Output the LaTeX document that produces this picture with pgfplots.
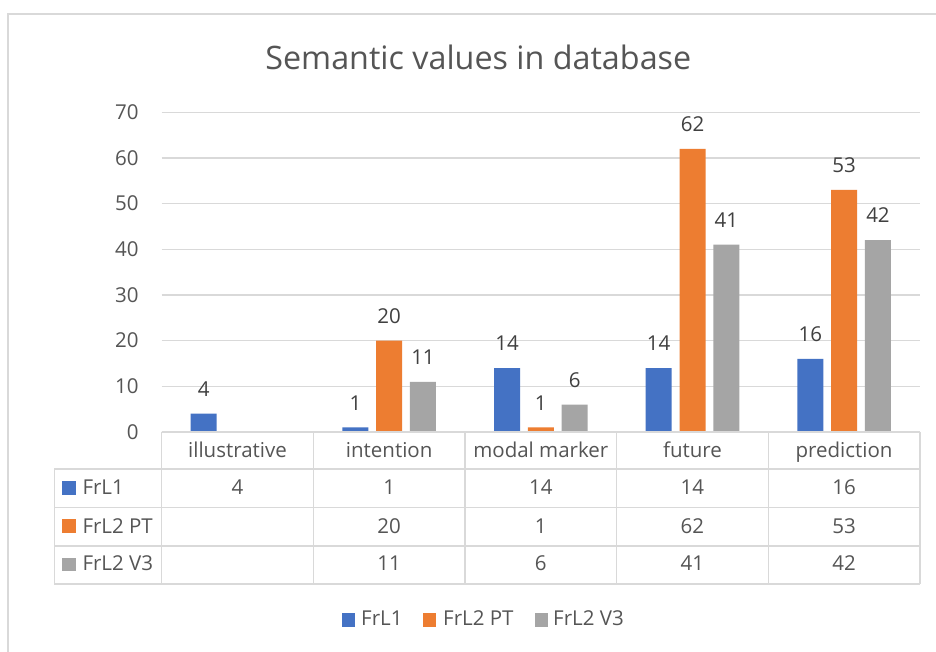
\documentclass[border=0pt]{standalone}
\usepackage{pgfplots}
\pgfplotsset{compat=1.18}
\usepackage{fontspec}
\setmainfont{Open Sans}
\definecolor{cblue}{HTML}{4472C4}
\definecolor{corange}{HTML}{ED7D31}
\definecolor{cgray}{HTML}{A5A5A5}
\definecolor{gridc}{HTML}{D9D9D9}
\definecolor{txt}{HTML}{555555}
\definecolor{lbl}{HTML}{404040}
\newcommand\lab{\fontsize{20.5}{24}\selectfont}
\begin{document}
\begin{tikzpicture}[x=1pt,y=1pt]
\useasboundingbox (0,0) rectangle (936,652);
\fill[white] (0,0) rectangle (936,652);
\draw[gridc, line width=1.5pt] (8,0) -- (8,638) -- (936,638);
\node[anchor=base, font=\fontsize{32.3}{38}\selectfont, text=txt, inner sep=0pt] at (478.3,582.7) {Semantic values in database};
\begin{axis}[
  at={(161.7pt,220pt)}, anchor=south west,
  scale only axis, width=758.3pt, height=319.7pt,
  xmin=-0.5, xmax=4.5, ymin=0, ymax=70,
  ytick={0,10,...,70}, xtick=\empty,
  axis line style={draw=none}, major tick length=0pt,
  ymajorgrids, grid style={gridc, line width=1.2pt},
  /pgf/number format/assume math mode=true,
  yticklabel style={font=\lab, text=txt, inner sep=0pt, xshift=-23pt},
  ybar=7.8pt, bar width=26pt,
  nodes near coords,
  every node near coord/.append style={font=\lab, text=lbl, inner sep=0pt, yshift=17pt},
  clip=false,
]
\addplot[fill=cblue, draw=none] coordinates {(0,4) (1,1) (2,14) (3,14) (4,16)};
\addplot[fill=corange, draw=none] coordinates {(1,20) (2,1) (3,62) (4,53)};
\addplot[fill=cgray, draw=none] coordinates {(1,11) (2,6) (3,41) (4,42)};
\end{axis}
% data table
\begin{scope}[gridc, line width=1.5pt]
\draw (161.7,220) -- (920,220);
\foreach \x in {161.7,313.3,465,616.7,768.3,920} \draw (\x,220) -- (\x,68);
\foreach \y in {183,144.3,106,68} \draw (54.3,\y) -- (920,\y);
\draw (54.3,183) -- (54.3,68);
\end{scope}
\foreach \i/\n in {0/illustrative,1/intention,2/modal marker,3/future,4/prediction}
  \node[anchor=base, font=\lab, text=txt, inner sep=0pt] at ({237.5+151.65*\i},194.7) {\n};
\foreach \i/\v in {0/4,1/1,2/14,3/14,4/16}
  \node[anchor=base, font=\lab, text=txt, inner sep=0pt] at ({237.5+151.65*\i},157) {\v};
\foreach \i/\v in {1/20,2/1,3/62,4/53}
  \node[anchor=base, font=\lab, text=txt, inner sep=0pt] at ({237.5+151.65*\i},118.7) {\v};
\foreach \i/\v in {1/11,2/6,3/41,4/42}
  \node[anchor=base, font=\lab, text=txt, inner sep=0pt] at ({237.5+151.65*\i},81) {\v};
% row headers
\fill[cblue] (62,157.3) rectangle (75.7,171);
\fill[corange] (62,119) rectangle (75.7,132.7);
\fill[cgray] (62,80.7) rectangle (75.7,94.4);
\node[anchor=base west, font=\lab, text=txt, inner sep=0pt] at (82.3,157) {FrL1};
\node[anchor=base west, font=\lab, text=txt, inner sep=0pt] at (82.3,118.7) {FrL2 PT};
\node[anchor=base west, font=\lab, text=txt, inner sep=0pt] at (82.3,81) {FrL2 V3};
% legend
\fill[cblue] (341.7,25.3) rectangle (355,38.7);
\fill[corange] (423,25.3) rectangle (436.3,38.7);
\fill[cgray] (535,25.3) rectangle (548.3,38.7);
\node[anchor=base west, font=\lab, text=txt, inner sep=0pt] at (361,26) {FrL1};
\node[anchor=base west, font=\lab, text=txt, inner sep=0pt] at (443,26) {FrL2 PT};
\node[anchor=base west, font=\lab, text=txt, inner sep=0pt] at (553,26) {FrL2 V3};
\end{tikzpicture}
\end{document}
